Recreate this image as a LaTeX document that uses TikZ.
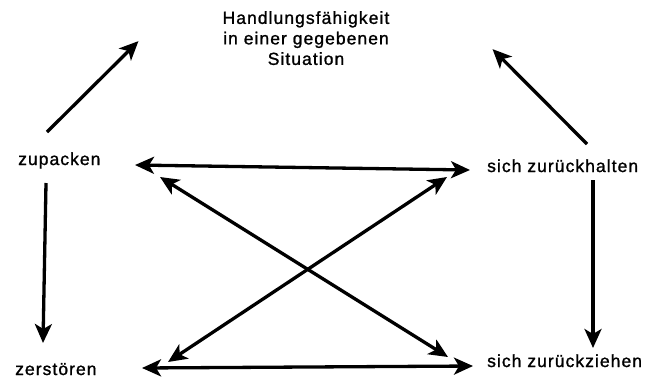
\documentclass[tikz,border=0pt]{standalone}
\usepackage{fontspec}
\setmainfont{Liberation Sans}[LetterSpace=6, FakeBold=1.2]
\usetikzlibrary{arrows.meta}

\begin{document}
\begin{tikzpicture}[x=1pt, y=-1pt,
        lbl/.style={inner sep=0pt, font=\fontsize{17.5}{20.5}\selectfont},
        arr/.style={line width=3.3pt, -{Stealth[length=19pt, width=17pt, inset=5pt]}},
        darr/.style={line width=3.3pt, {Stealth[length=19pt, width=17pt, inset=5pt]}-{Stealth[length=19pt, width=17pt, inset=5pt]}}]
        \useasboundingbox (0,0) rectangle (656,381);

        \node[lbl, align=center, anchor=north] (1) at (306,11) {Handlungsfähigkeit\\in einer gegebenen\\Situation};
        \node[lbl, anchor=base west] (2) at (18,165) {zupacken};
        \node[lbl, anchor=base west] (3) at (487,172) {sich zurückhalten};
        \node[lbl, anchor=base west] (4) at (15,375) {zerstören};
        \node[lbl, anchor=base west] (5) at (487,367) {sich zurückziehen};

        \path[arr] ([shift={(29,-33)}]2.base west) edge ([shift={(-84,3)}]1.west);
        \path[arr] ([shift={(100,-28)}]3.base west) edge ([shift={(103,11)}]1.east);
        \path[arr] ([shift={(28,18)}]2.base west) edge ([shift={(28,-32)}]4.base west);
        \path[arr] ([shift={(106,8)}]3.base west) edge ([shift={(106,-19)}]5.base west);

        \path[darr] ([shift={(117,0)}]2.base west) edge ([shift={(-17,-2)}]3.base west);
        \path[darr] ([shift={(127,-7)}]4.base west) edge ([shift={(-14,-1)}]5.base west);
        \path[darr] ([shift={(142,12)}]2.base west) edge ([shift={(-39,-10)}]5.base west);
        \path[darr] ([shift={(153,-13)}]4.base west) edge ([shift={(-40,5)}]3.base west);
    \end{tikzpicture}
\end{document}
